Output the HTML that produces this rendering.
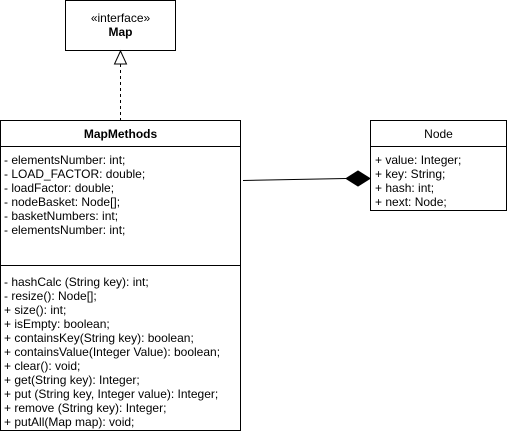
<!DOCTYPE html>
<html><head><style>
html,body{margin:0;padding:0;background:#fff;}
svg{display:block;}
text{font-family:"Liberation Sans",Arial,sans-serif;font-size:12px;fill:#000;}
</style></head><body>
<svg width="511" height="434" viewBox="0 0 511 434" xmlns="http://www.w3.org/2000/svg">
<rect x="65.5" y="0.5" width="110" height="50" fill="#fff" stroke="#000"/>
<text x="120.5" y="22" text-anchor="middle" font-size="11">«interface»</text>
<text x="120.5" y="36" text-anchor="middle" font-weight="bold">Map</text>
<line x1="120.5" y1="64" x2="120.5" y2="120" stroke="#000" stroke-dasharray="3,3"/>
<polygon points="120.5,51 114.5,64 126.5,64" fill="#fff" stroke="#000"/>

<rect x="0.5" y="120.5" width="240" height="310" fill="#fff" stroke="#000"/>
<line x1="0.5" y1="146.5" x2="240.5" y2="146.5" stroke="#000"/>
<line x1="0.5" y1="265.5" x2="240.5" y2="265.5" stroke="#000"/>
<text x="120.5" y="138" text-anchor="middle" font-weight="bold">MapMethods</text>
<g>
<text x="4" y="164">- elementsNumber: int;</text>
<text x="4" y="178">- LOAD_FACTOR: double;</text>
<text x="4" y="192">- loadFactor: double;</text>
<text x="4" y="206">- nodeBasket: Node[];</text>
<text x="4" y="220">- basketNumbers: int;</text>
<text x="4" y="234">- elementsNumber: int;</text>
</g>
<g>
<text x="4" y="286">- hashCalc (String key): int;</text>
<text x="4" y="300">- resize(): Node[];</text>
<text x="4" y="314">+ size(): int;</text>
<text x="4" y="328">+ isEmpty: boolean;</text>
<text x="4" y="342">+ containsKey(String key): boolean;</text>
<text x="4" y="356">+ containsValue(Integer Value): boolean;</text>
<text x="4" y="370">+ clear(): void;</text>
<text x="4" y="384">+ get(String key): Integer;</text>
<text x="4" y="398">+ put (String key, Integer value): Integer;</text>
<text x="4" y="412">+ remove (String key): Integer;</text>
<text x="4" y="426">+ putAll(Map map): void;</text>
</g>

<line x1="243" y1="180.5" x2="346" y2="178.5" stroke="#000"/>
<polygon points="346,178.5 358,171 370,178.5 358,186" fill="#000" stroke="#000"/>

<rect x="370.5" y="120.5" width="136" height="90" fill="#fff" stroke="#000"/>
<line x1="370.5" y1="146.5" x2="506.5" y2="146.5" stroke="#000"/>
<text x="438.5" y="138" text-anchor="middle">Node</text>
<text x="375" y="164">+ value: Integer;</text>
<text x="375" y="178">+ key: String;</text>
<text x="375" y="192">+ hash: int;</text>
<text x="375" y="206">+ next: Node;</text>
</svg>
</body></html>
